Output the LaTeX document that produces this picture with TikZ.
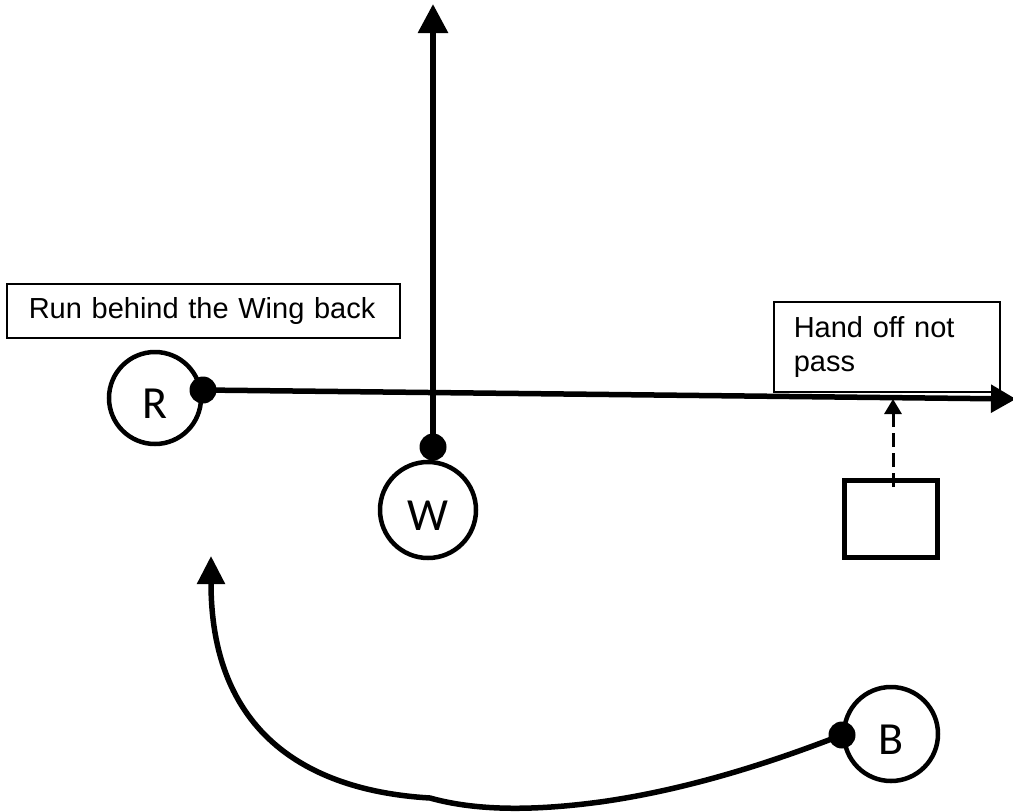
\documentclass[tikz,border=0pt]{standalone}
\usepackage{fontspec}
\setmainfont{Liberation Sans}
\newfontfamily\carlito{Carlito}
\usetikzlibrary{arrows.meta}
\begin{document}
\begin{tikzpicture}[x=1pt,y=-1pt,
  player/.style={circle,draw,line width=4.5pt,inner sep=0pt,
    font=\carlito\fontsize{46pt}{46pt}\selectfont,text height=41pt,text depth=0pt},
  dot/.style={circle,fill,minimum size=27pt,inner sep=0pt},
  note/.style={draw,line width=1.6pt,anchor=north west,align=left,
    font=\fontsize{29pt}{34pt}\selectfont},
  route/.style={line width=5.5pt}]
\useasboundingbox (0,0) rectangle (1013,812);

% text boxes
\node[note,text width=349pt,inner xsep=22pt,minimum height=54pt] (run) at (6,283) {Run behind the Wing back};
\node[note,text width=186pt,inner xsep=20pt,minimum height=90pt] (hand) at (773,301) {Hand off not\\pass};

% players
\node[player,minimum size=92pt] (R) at (155,398) {R};
\node[player,minimum size=96pt] (W) at (428,510) {W};
\node[player,minimum size=94pt] (B) at (891,734) {B};
\node[draw,line width=5.5pt,minimum width=93pt,minimum height=77pt,inner sep=0pt] (sq) at (891,519) {};

% dots
\node[dot] (Rd) at (203,390) {};
\node[dot] (Wd) at (433,447) {};
\node[dot] (Bd) at (842,735) {};

% free ends
\coordinate (hTip) at (1016,399);
\coordinate (vTip) at (433,4);
\coordinate (cTip) at (211,556);
\coordinate (dStart) at (893,487);
\coordinate (dTip) at (893,399);

% routes
\draw[route,-{Triangle[length=25pt,width=27pt]}] (Rd.center) -- (hTip);
\draw[route,line width=6pt,-{Triangle[length=29pt,width=29pt]}] (Wd.center) -- (vTip);
\draw[line width=3pt,dash pattern=on 14pt off 6pt,-{Triangle[length=15pt,width=17pt]}] (dStart) -- (dTip);
\draw[route,-{Triangle[length=28pt,width=27pt]}] (Bd.center)
  .. controls (790,755) and (700,788) .. (600,802)
  .. controls (540,810) and (480,812) .. (430,798)
  .. controls (345,793) and (211,760) .. (cTip);
\end{tikzpicture}
\end{document}
